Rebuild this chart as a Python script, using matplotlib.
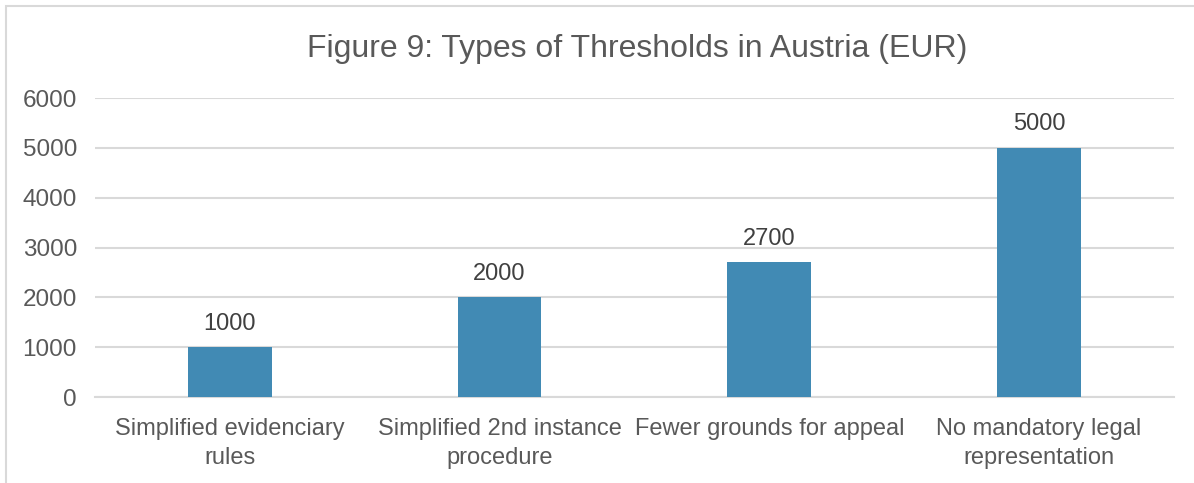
import matplotlib.pyplot as plt
from matplotlib.patches import Rectangle

categories = ["Simplified evidenciary\nrules", "Simplified 2nd instance\nprocedure",
              "Fewer grounds for appeal", "No mandatory legal\nrepresentation"]
values = [1000, 2000, 2700, 5000]

plt.rcParams['font.family'] = ['Liberation Sans', 'DejaVu Sans']
txt = '#595959'
grid = '#D9D9D9'

fig = plt.figure(figsize=(11.94, 4.83), dpi=100)
ax = fig.add_axes([0.0796, 0.178, 0.9035, 0.619])

x = range(len(categories))
bars = ax.bar(x, values, width=0.31, color='#418AB4', zorder=3)
for b, v in zip(bars, values):
    ax.annotate(str(v), (b.get_x() + b.get_width() / 2, v), xytext=(0, 9),
                textcoords='offset points', ha='center', va='bottom',
                fontsize=17, color='#404040')

ax.set_xlim(-0.5, len(categories) - 0.5)
ax.set_ylim(0, 6000)
ax.set_yticks(range(0, 6001, 1000))
ax.set_xticks(list(x))
ax.set_xticklabels(categories, fontsize=17, color=txt, linespacing=1.4)
ax.tick_params(axis='y', labelsize=17.5, labelcolor=txt, length=0, pad=13)
ax.tick_params(axis='x', length=0, pad=15)
ax.grid(axis='y', color=grid, linewidth=1.5, zorder=0)
for s in ['top', 'right', 'left']:
    ax.spines[s].set_visible(False)
ax.spines['bottom'].set_color(grid)
ax.spines['bottom'].set_linewidth(1.5)

fig.text(0.534, 0.898, "Figure 9: Types of Thresholds in Austria (EUR)",
         ha='center', va='center', fontsize=23, color=txt)

fig.patches.append(Rectangle((6 / 1194, -0.1), 1.2, 1 - 6 / 483 + 0.1,
                             transform=fig.transFigure, fill=False,
                             edgecolor=grid, linewidth=1.5))

fig.savefig('out.png', dpi=100)
